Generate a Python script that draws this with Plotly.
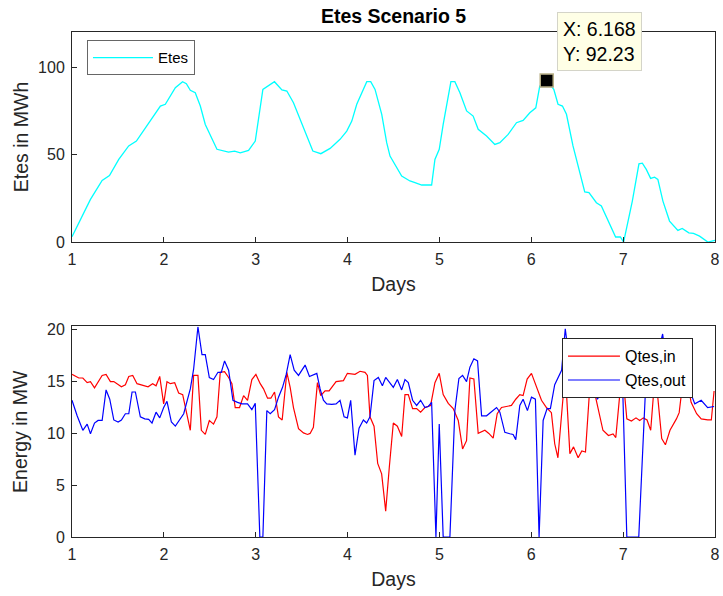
import plotly.graph_objects as go

# ---------------- data ----------------
etes_days = [1.0, 1.201, 1.328, 1.408, 1.509, 1.617, 1.701, 1.864, 1.962, 2.016, 2.125, 2.204, 2.245,
             2.288, 2.342, 2.397, 2.451, 2.578, 2.633, 2.704, 2.770, 2.832, 2.922, 2.995, 3.078, 3.139,
             3.204, 3.285, 3.339, 3.411, 3.484, 3.622, 3.709, 3.810, 3.918, 3.991, 4.046, 4.100, 4.209,
             4.252, 4.299, 4.372, 4.426, 4.462, 4.589, 4.679, 4.734, 4.807, 4.915, 4.951, 4.998, 5.041,
             5.125, 5.168, 5.223, 5.296, 5.367, 5.422, 5.513, 5.603, 5.658, 5.748, 5.839, 5.911, 5.984,
             6.049, 6.092, 6.168, 6.245, 6.291, 6.339, 6.383, 6.454, 6.527, 6.582, 6.628, 6.709, 6.763,
             6.835, 6.918, 6.970, 7.005, 7.100, 7.172, 7.209, 7.252, 7.299, 7.342, 7.378, 7.433, 7.505,
             7.596, 7.643, 7.715, 7.766, 7.832, 7.922, 8.0]
etes_vals = [3.0, 24.4, 35.2, 38.0, 47.2, 54.9, 57.7, 70.0, 77.7, 78.7, 88.2, 91.6, 90.5,
             86.7, 85.3, 77.7, 67.2, 53.0, 52.4, 51.4, 52.0, 51.0, 52.4, 57.7, 87.2, 89.1,
             91.6, 86.9, 86.3, 79.6, 70.1, 52.0, 50.5, 53.5, 58.7, 63.4, 69.1, 78.7, 91.6,
             91.6, 87.2, 73.0, 56.8, 49.1, 37.7, 34.9, 33.9, 32.6, 32.6, 47.2, 53.0, 67.2,
             91.6, 91.6, 85.3, 74.9, 72.0, 64.4, 60.6, 55.8, 56.8, 61.5, 68.2, 69.5, 73.9,
             76.7, 89.1, 92.23, 87.2, 78.7, 77.7, 73.0, 54.9, 39.6, 28.6, 28.2, 22.5, 20.6,
             12.0, 2.9, 2.9, 0.0, 23.4, 44.7, 45.1, 41.5, 36.4, 37.1, 35.8, 23.4, 12.0,
             6.7, 7.8, 5.3, 5.0, 3.4, 0.0, 1.0]

tip_x = 6.168
tip_y = 92.23

qin_days = [1.00, 1.074, 1.118, 1.165, 1.201, 1.245, 1.328, 1.371, 1.418, 1.455, 1.538, 1.581, 1.618,
            1.661, 1.708, 1.781, 1.828, 1.878, 1.915, 1.955, 1.998, 2.034, 2.071, 2.118, 2.161, 2.205,
            2.288, 2.324, 2.371, 2.408, 2.451, 2.495, 2.541, 2.578, 2.614, 2.661, 2.705, 2.741, 2.777,
            2.824, 2.868, 2.911, 2.958, 3.002, 3.049, 3.085, 3.129, 3.165, 3.205, 3.248, 3.288, 3.339,
            3.375, 3.411, 3.466, 3.520, 3.564, 3.592, 3.628, 3.672, 3.708, 3.755, 3.799, 3.875, 3.955,
            3.998, 4.081, 4.136, 4.190, 4.216, 4.244, 4.288, 4.328, 4.371, 4.415, 4.455, 4.498, 4.542,
            4.589, 4.625, 4.661, 4.708, 4.752, 4.795, 4.842, 4.904, 4.951, 4.998, 5.041, 5.096, 5.150,
            5.205, 5.252, 5.295, 5.332, 5.375, 5.422, 5.495, 5.538, 5.585, 5.629, 5.676, 5.730, 5.784,
            5.831, 5.875, 5.911, 5.955, 6.002, 6.056, 6.111, 6.165, 6.219, 6.255, 6.29, 6.37, 6.42,
            6.46, 6.51, 6.55, 6.59, 6.65, 6.70, 6.78, 6.84, 6.89, 6.92, 6.99, 7.04, 7.09, 7.14, 7.18,
            7.22, 7.26, 7.30, 7.35, 7.42, 7.46, 7.51, 7.58, 7.61, 7.67, 7.74, 7.80, 7.85, 7.92, 7.96, 7.99]
qin_vals = [15.7, 15.35, 15.35, 14.9, 15.0, 14.4, 15.6, 15.7, 15.0, 15.0, 14.5, 14.7, 15.5,
            15.6, 14.8, 14.6, 14.5, 14.8, 14.6, 15.5, 12.85, 15.0, 14.8, 14.9, 13.9, 13.75,
            10.3, 15.6, 15.6, 10.3, 9.9, 11.25, 10.9, 11.6, 15.9, 15.96, 15.4, 14.8, 12.5,
            12.5, 13.65, 13.2, 15.2, 15.7, 14.8, 14.3, 13.4, 13.4, 14.0, 11.6, 11.3, 15.9,
            14.45, 12.5, 10.45, 10.05, 9.9, 10.0, 10.6, 14.9, 13.65, 14.1, 14.1, 15.0, 15.1,
            15.8, 15.7, 16.0, 15.9, 15.6, 11.6, 10.7, 7.1, 6.1, 2.5, 6.8, 11.0, 10.7,
            9.7, 13.75, 13.75, 12.4, 12.4, 12.05, 12.5, 12.7, 14.9, 15.8, 13.75, 12.9, 12.4,
            11.25, 8.5, 9.3, 15.35, 15.25, 10.0, 10.3, 10.0, 9.55, 11.9, 12.5, 12.6, 12.7,
            13.3, 13.75, 13.65, 15.25, 15.8, 14.45, 13.2, 12.5, 12.0, 9.0, 7.65, 16.0, 8.05,
            8.7, 7.65, 8.3, 8.2, 16.2, 13.5, 10.3, 9.8, 9.95, 9.6, 16.3, 11.4, 11.2, 11.5, 11.25,
            11.5, 11.3, 10.3, 16.0, 9.5, 8.9, 10.3, 11.4, 12.0, 16.5, 13.0, 11.9, 11.4, 11.3, 11.3, 14.1]

qout_days = [1.00, 1.056, 1.118, 1.165, 1.201, 1.245, 1.284, 1.328, 1.371, 1.411, 1.455, 1.502, 1.538,
             1.581, 1.618, 1.654, 1.690, 1.744, 1.792, 1.835, 1.871, 1.915, 1.955, 1.998, 2.034, 2.082,
             2.125, 2.216, 2.288, 2.324, 2.371, 2.415, 2.451, 2.495, 2.541, 2.589, 2.625, 2.661, 2.705,
             2.752, 2.802, 2.850, 2.911, 2.958, 2.995, 3.045, 3.078, 3.121, 3.158, 3.205, 3.248, 3.292,
             3.332, 3.375, 3.419, 3.466, 3.538, 3.585, 3.665, 3.701, 3.737, 3.773, 3.828, 3.875, 3.918,
             3.962, 3.998, 4.034, 4.081, 4.125, 4.172, 4.208, 4.244, 4.288, 4.335, 4.379, 4.415, 4.462,
             4.498, 4.542, 4.589, 4.625, 4.661, 4.708, 4.752, 4.795, 4.842, 4.879, 4.915, 4.962, 4.998,
             5.041, 5.114, 5.168, 5.212, 5.252, 5.295, 5.332, 5.375, 5.415, 5.459, 5.513, 5.567, 5.622,
             5.658, 5.712, 5.766, 5.802, 5.831, 5.875, 5.911, 5.958, 6.002, 6.045, 6.085, 6.129, 6.172,
             6.208, 6.255, 6.33, 6.37, 6.42, 6.50, 6.58, 6.66, 6.72, 6.77, 6.82, 6.87, 6.94, 6.99,
             7.04, 7.17, 7.25, 7.33, 7.43, 7.50, 7.54, 7.58, 7.63, 7.70, 7.74, 7.78, 7.85, 7.92, 7.96, 7.99]
qout_vals = [13.2, 11.7, 10.3, 10.9, 9.97, 11.0, 11.25, 11.25, 14.2, 13.3, 11.3, 11.1, 11.3,
             11.9, 11.9, 14.0, 14.0, 11.6, 11.4, 11.35, 11.0, 12.05, 11.5, 12.5, 13.1, 11.1,
             10.7, 11.9, 14.3, 16.2, 20.3, 17.6, 17.6, 15.4, 15.2, 15.9, 15.9, 17.0, 16.1,
             13.2, 13.0, 12.85, 12.85, 12.3, 12.9, 0.0, 0.0, 12.2, 11.9, 12.3, 13.5, 14.45,
             15.7, 17.6, 16.1, 15.6, 16.6, 15.5, 15.8, 14.3, 13.2, 12.85, 12.8, 12.85, 13.2,
             11.6, 11.5, 13.2, 7.9, 10.5, 11.3, 11.0, 11.6, 15.1, 15.4, 14.6, 15.4, 14.8,
             14.45, 15.2, 14.2, 15.2, 14.9, 13.2, 12.7, 13.2, 12.5, 12.6, 13.0, 0.0, 10.9,
             0.0, 0.0, 12.2, 15.3, 15.6, 15.0, 16.4, 17.2, 17.0, 11.7, 11.7, 12.1, 12.5,
             12.05, 10.1, 9.97, 9.9, 9.4, 12.7, 13.3, 12.2, 13.5, 13.3, 0.0, 11.25, 12.4,
             12.4, 14.7, 16.1, 20.1, 16.5, 15.5, 16.0, 15.0, 13.3, 14.1, 14.45, 14.7, 16.0, 16.0,
             0.0, 0.0, 15.5, 16.0, 19.6, 15.0, 13.9, 13.9, 14.45, 15.5, 13.8, 12.85, 13.2, 12.5, 12.6, 12.6]

x_ticks = [1, 2, 3, 4, 5, 6, 7, 8]
top_yticks = [0, 50, 100]
bot_yticks = [0, 5, 10, 15, 20]

# ---------------- figure ----------------
FONT = "Arial, Liberation Sans, Helvetica, sans-serif"
AX = "#262626"
TICK_SIZE = 16
LABEL_SIZE = 19.5

fig = go.Figure()
fig.add_trace(go.Scatter(x=etes_days, y=etes_vals, mode="lines", name="Etes",
                         line=dict(color="#00FFFF", width=1.3), xaxis="x", yaxis="y",
                         legend="legend"))
fig.add_trace(go.Scatter(x=[tip_x], y=[tip_y], mode="markers", showlegend=False,
                         marker=dict(symbol="square", size=13, color="black",
                                     line=dict(color="#B8AF86", width=1.5)),
                         xaxis="x", yaxis="y"))
fig.add_trace(go.Scatter(x=qin_days, y=qin_vals, mode="lines", name="Qtes,in",
                         line=dict(color="#FF0000", width=1.2), xaxis="x2", yaxis="y2",
                         legend="legend2"))
fig.add_trace(go.Scatter(x=qout_days, y=qout_vals, mode="lines", name="Qtes,out",
                         line=dict(color="#0000FF", width=1.2), xaxis="x2", yaxis="y2",
                         legend="legend2"))

axis_common = dict(showline=True, mirror=True, linecolor=AX, linewidth=1, ticks="inside",
                   ticklen=5, tickcolor=AX, showgrid=False, zeroline=False, automargin=False,
                   tickfont=dict(family=FONT, size=TICK_SIZE, color=AX))
xcommon = dict(axis_common, ticklabelstandoff=3)
ycommon = dict(axis_common, ticklabelstandoff=3)

fig.update_layout(
    width=723, height=596,
    margin=dict(l=72, r=8, t=32, b=59, autoexpand=False),
    paper_bgcolor="white", plot_bgcolor="white",
    font=dict(family=FONT, color=AX),
    title=dict(text="<b>Etes Scenario 5</b>", xref="paper", x=0.5, xanchor="center",
               yref="container", y=0.973, yanchor="middle",
               font=dict(family=FONT, size=LABEL_SIZE, color="black")),
    xaxis=dict(domain=[0, 1], anchor="y", range=[1, 8], tickvals=x_ticks,
               title=dict(text="Days", font=dict(family=FONT, size=LABEL_SIZE, color=AX), standoff=10),
               **xcommon),
    yaxis=dict(domain=[0.584, 1], anchor="x", range=[0, 120], tickvals=top_yticks,
               title=dict(text="Etes in MWh", font=dict(family=FONT, size=LABEL_SIZE, color=AX), standoff=4),
               **ycommon),
    xaxis2=dict(domain=[0, 1], anchor="y2", range=[1, 8], tickvals=x_ticks,
                title=dict(text="Days", font=dict(family=FONT, size=LABEL_SIZE, color=AX), standoff=10),
                **xcommon),
    yaxis2=dict(domain=[0, 0.417], anchor="x2", range=[0, 20.33], tickvals=bot_yticks,
                title=dict(text="Energy in MW", font=dict(family=FONT, size=LABEL_SIZE, color=AX), standoff=14),
                **ycommon),
    legend=dict(x=0.0233, y=0.9835, xanchor="left", yanchor="top", xref="paper", yref="paper",
                bgcolor="white", bordercolor="#666666", borderwidth=1,
                font=dict(family=FONT, size=15, color="black"), itemwidth=60),
    legend2=dict(x=0.762, y=0.3935, xanchor="left", yanchor="top", xref="paper", yref="paper",
                 bgcolor="white", bordercolor="#262626", borderwidth=1,
                 font=dict(family=FONT, size=16, color="black"), itemwidth=52, tracegroupgap=0),
    showlegend=True,
)

fig.add_annotation(x=tip_x, y=tip_y, xref="x", yref="y", showarrow=False,
                   text="X: 6.168<br>Y: 92.23", align="left",
                   xanchor="left", yanchor="bottom", xshift=10, yshift=10,
                   font=dict(family=FONT, size=19.5, color="black"),
                   bgcolor="#FFFFE6", bordercolor="#D4D4C8", borderwidth=1, borderpad=5)

fig.write_html("out.html")
